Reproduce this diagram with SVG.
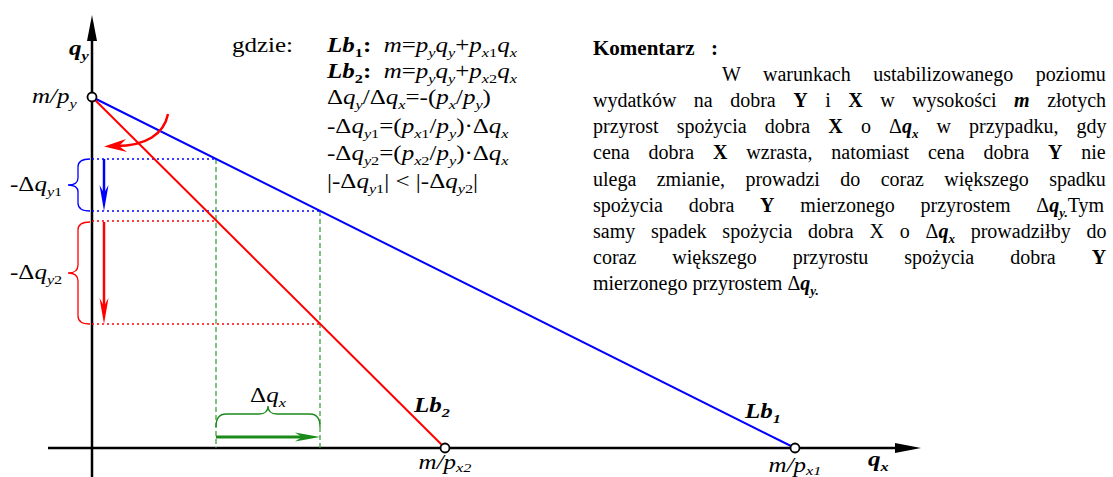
<svg xmlns="http://www.w3.org/2000/svg" width="1113" height="477" viewBox="0 0 1113 477">
<style>
.t{font-family:"Liberation Serif","Times New Roman",serif;font-size:20px;fill:#000}
.b{font-weight:bold}
.i{font-style:italic}
.bi{font-weight:bold;font-style:italic}
.s{font-size:13px;baseline-shift:-5px}
.ax{stroke:#000;stroke-width:2.5;fill:none}
.blue{stroke:#0000ff;stroke-width:2;fill:none}
.red{stroke:#ff0000;stroke-width:2;fill:none}
.dotb{stroke:#0000ff;stroke-width:1.6;stroke-dasharray:2 3;fill:none}
.dotr{stroke:#ff0000;stroke-width:1.6;stroke-dasharray:2 3;fill:none}
.dash{stroke:#2a9a2a;stroke-width:1.2;stroke-dasharray:5 3;fill:none}
.pt{fill:#fff;stroke:#000;stroke-width:1.8}
</style>
<rect width="1113" height="477" fill="#fff"/>
<g id="axes">
<line x1="92" y1="477" x2="92" y2="38" class="ax"/>
<polygon points="92,15 87,41 97,41" fill="#000"/>
<line x1="48" y1="448" x2="898" y2="448" class="ax"/>
<polygon points="921,448 895,443 895,453" fill="#000"/>
</g>
<g id="guides">
<line x1="92" y1="159" x2="216" y2="159" class="dotb"/>
<line x1="92" y1="211" x2="320" y2="211" class="dotb"/>
<line x1="92" y1="221" x2="216" y2="221" class="dotr"/>
<line x1="92" y1="324" x2="320" y2="324" class="dotr"/>
<line x1="216" y1="159" x2="216" y2="448" class="dash"/>
<line x1="320" y1="211" x2="320" y2="448" class="dash"/>
</g>
<g id="connectors">
<line id="lb1-line" x1="92" y1="97" x2="795" y2="448" class="blue"/>
<line id="lb2-line" x1="92" y1="97" x2="445" y2="448" class="red"/>
<line x1="104" y1="159" x2="104" y2="196" stroke="#0000ff" stroke-width="2.5"/>
<polygon points="104,211 99.5,185 104,193 108.5,185" fill="#0000ff"/>
<line x1="104" y1="222" x2="104" y2="310" stroke="#ff0000" stroke-width="2.5"/>
<polygon points="104,324 99.5,298 104,306 108.5,298" fill="#ff0000"/>
<line x1="216" y1="437" x2="306" y2="437" stroke="#1a8a1a" stroke-width="3"/>
<polygon points="320,437 295,432.5 302,437 295,441.5" fill="#1a8a1a"/>
<path d="M168,114 C164,134 146,146 116,146" stroke="#ff0000" stroke-width="2.5" fill="none"/>
<polygon points="104,146.5 126,139 119,146 127,152" fill="#ff0000"/>
<path d="M90,159 Q78,159 78,167 L78,178 Q78,185 68,185 Q78,185 78,192 L78,203 Q78,211 90,211" stroke="#0000ff" stroke-width="1.3" fill="none"/>
<path d="M90,222 Q78,222 78,230 L78,265 Q78,273 68,273 Q78,273 78,281 L78,316 Q78,324 90,324" stroke="#ff0000" stroke-width="1.3" fill="none"/>
<path d="M216,427 Q216,414 226,414 L259,414 Q268,414 268,406 Q268,414 277,414 L310,414 Q320,414 320,427" stroke="#1a8a1a" stroke-width="1.3" fill="none"/>
</g>
<g id="points">
<circle cx="92" cy="97" r="4.5" class="pt"/>
<circle cx="445" cy="448" r="4.5" class="pt"/>
<circle cx="795" cy="448" r="4.5" class="pt"/>
</g>
<g id="labels" transform="scale(1.25,1)">
<text class="t bi" x="55.2" y="55">q<tspan class="s">y</tspan></text>
<text class="t i" x="25.6" y="103">m/p<tspan class="s">y</tspan></text>
<text class="t" x="8" y="191">-Δ<tspan class="i">q</tspan><tspan class="s"><tspan class="i">y</tspan>1</tspan></text>
<text class="t" x="8" y="279">-Δ<tspan class="i">q</tspan><tspan class="s"><tspan class="i">y</tspan>2</tspan></text>
<text class="t" x="214.4" y="402" text-anchor="middle">Δ<tspan class="i">q</tspan><tspan class="i s">x</tspan></text>
<text class="t bi" x="331.2" y="412">Lb<tspan class="s">2</tspan></text>
<text class="t bi" x="596" y="418">Lb<tspan class="s">1</tspan></text>
<text class="t i" x="356" y="469" text-anchor="middle">m/p<tspan class="s" style="baseline-shift:-3px">x2</tspan></text>
<text class="t i" x="636" y="472" text-anchor="middle">m/p<tspan class="s" style="baseline-shift:-3px">x1</tspan></text>
<text class="t bi" x="694.4" y="466">q<tspan class="s">x</tspan></text>
</g>
<g id="formulas" transform="scale(1.25,1)">
<text class="t" x="185.6" y="52">gdzie:</text>
<text class="t" x="261.6" y="52"><tspan class="bi">Lb</tspan><tspan class="b s">1</tspan><tspan class="b">:</tspan>&#160; <tspan class="i">m</tspan>=<tspan class="i">p</tspan><tspan class="i s">y</tspan><tspan class="i">q</tspan><tspan class="i s">y</tspan>+<tspan class="i">p</tspan><tspan class="s"><tspan class="i">x</tspan>1</tspan><tspan class="i">q</tspan><tspan class="i s">x</tspan></text>
<text class="t" x="261.6" y="78"><tspan class="bi">Lb</tspan><tspan class="b s">2</tspan><tspan class="b">:</tspan>&#160; <tspan class="i">m</tspan>=<tspan class="i">p</tspan><tspan class="i s">y</tspan><tspan class="i">q</tspan><tspan class="i s">y</tspan>+<tspan class="i">p</tspan><tspan class="s"><tspan class="i">x</tspan>2</tspan><tspan class="i">q</tspan><tspan class="i s">x</tspan></text>
<text class="t" x="261.6" y="104">Δ<tspan class="i">q</tspan><tspan class="i s">y</tspan>/Δ<tspan class="i">q</tspan><tspan class="i s">x</tspan>=-(<tspan class="i">p</tspan><tspan class="i s">x</tspan>/<tspan class="i">p</tspan><tspan class="i s">y</tspan>)</text>
<text class="t" x="261.6" y="133">-Δ<tspan class="i">q</tspan><tspan class="s"><tspan class="i">y</tspan>1</tspan>=(<tspan class="i">p</tspan><tspan class="s"><tspan class="i">x</tspan>1</tspan>/<tspan class="i">p</tspan><tspan class="i s">y</tspan>)·Δ<tspan class="i">q</tspan><tspan class="i s">x</tspan></text>
<text class="t" x="261.6" y="160">-Δ<tspan class="i">q</tspan><tspan class="s"><tspan class="i">y</tspan>2</tspan>=(<tspan class="i">p</tspan><tspan class="s"><tspan class="i">x</tspan>2</tspan>/<tspan class="i">p</tspan><tspan class="i s">y</tspan>)·Δ<tspan class="i">q</tspan><tspan class="i s">x</tspan></text>
<text class="t" x="261.6" y="188">|-Δ<tspan class="i">q</tspan><tspan class="s"><tspan class="i">y</tspan>1</tspan>| &lt; |-Δ<tspan class="i">q</tspan><tspan class="s"><tspan class="i">y</tspan>2</tspan>|</text>
</g>
<g id="comment">
<text class="t b" x="593" y="54.5" style="font-size:21px">Komentarz<tspan x="711">:</tspan></text>
<text class="t" x="722" y="80.7" word-spacing="17.5">W warunkach ustabilizowanego poziomu</text>
<text class="t" x="593" y="106.9" word-spacing="12.5">wydatków na dobra <tspan class="b">Y</tspan> i <tspan class="b">X</tspan> w wysokości <tspan class="bi">m</tspan> złotych</text>
<text class="t" x="593" y="133.1" word-spacing="13.1">przyrost spożycia dobra <tspan class="b">X</tspan> o Δ<tspan class="bi">q</tspan><tspan class="bi s">x</tspan> w przypadku, gdy</text>
<text class="t" x="593" y="159.3" word-spacing="13.9">cena dobra <tspan class="b">X</tspan> wzrasta, natomiast cena dobra <tspan class="b">Y</tspan> nie</text>
<text class="t" x="593" y="185.5" word-spacing="15.4">ulega zmianie, prowadzi do coraz większego spadku</text>
<text class="t" x="593" y="211.7" word-spacing="20.8">spożycia dobra <tspan class="b">Y</tspan> mierzonego przyrostem Δ<tspan class="bi">q</tspan><tspan class="bi s">y.</tspan>Tym</text>
<text class="t" x="593" y="237.9" word-spacing="10.8">samy spadek spożycia dobra X o Δ<tspan class="bi">q</tspan><tspan class="bi s">x</tspan> prowadziłby do</text>
<text class="t" x="593" y="264.1" word-spacing="31">coraz większego przyrostu spożycia dobra <tspan class="b">Y</tspan></text>
<text class="t" x="593" y="290.3">mierzonego przyrostem Δ<tspan class="bi">q</tspan><tspan class="bi s">y.</tspan></text>
</g>
</svg>
